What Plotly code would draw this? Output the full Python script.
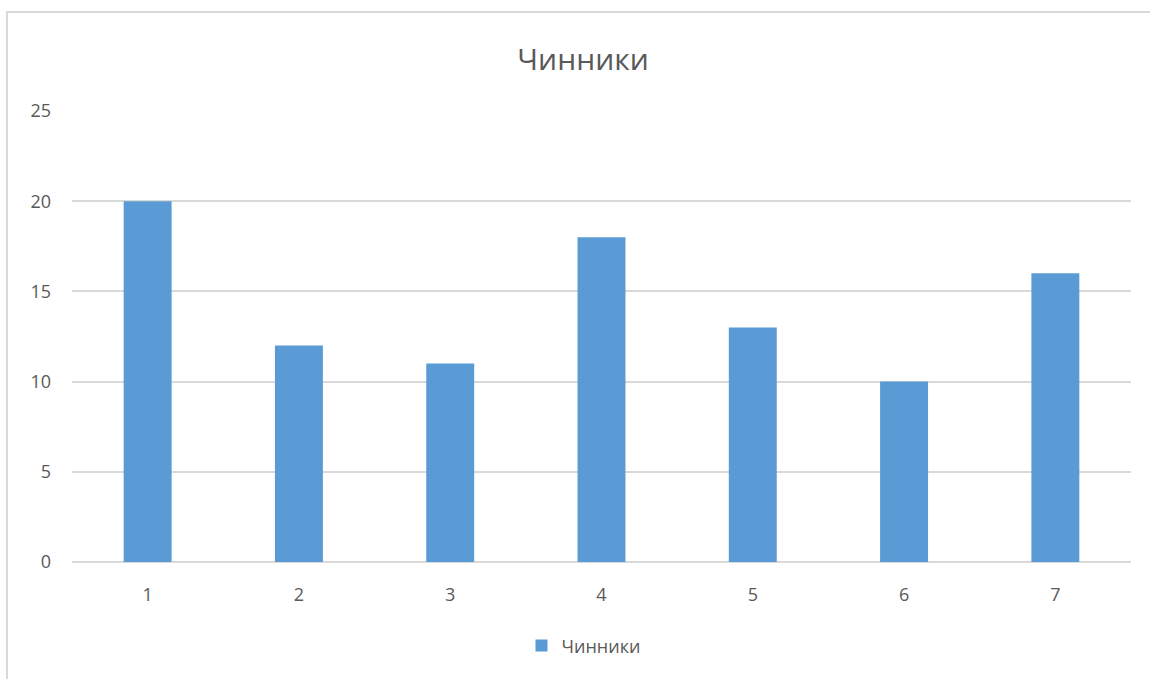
import plotly.graph_objects as go

# Factor numbers and their values
categories = [1, 2, 3, 4, 5, 6, 7]
values = [20, 12, 11, 18, 13, 10, 16]
series_name = "Чинники"
y_ticks = [0, 5, 10, 15, 20, 25]

fig = go.Figure()
fig.add_trace(go.Bar(
    x=categories,
    y=values,
    name=series_name,
    marker=dict(color="#5b9bd5", line=dict(width=0)),
    showlegend=True,
))

text_color = "#595959"
grid_color = "#d9d9d9"

fig.update_layout(
    width=1150,
    height=679,
    margin=dict(l=72, r=19, t=111, b=117),
    paper_bgcolor="white",
    plot_bgcolor="white",
    font=dict(family="Open Sans, DejaVu Sans, sans-serif", color=text_color, size=17),
    title=dict(
        text=series_name,
        x=0.507, xanchor="center",
        y=0.913, yanchor="middle",
        font=dict(size=30, color=text_color),
    ),
    bargap=0.683,
    xaxis=dict(
        tickmode="array",
        tickvals=categories,
        ticktext=[str(c) for c in categories],
        range=[0.5, 7.5],
        showgrid=False,
        zeroline=False,
        showline=False,
        ticks="",
        ticklabelstandoff=20,
        tickfont=dict(size=18, color=text_color),
    ),
    yaxis=dict(
        range=[0, 25],
        tickmode="array",
        tickvals=y_ticks,
        showgrid=True,
        gridcolor=grid_color,
        gridwidth=2,
        zeroline=True,
        zerolinecolor=grid_color,
        zerolinewidth=2,
        showline=False,
        ticks="",
        ticklabelstandoff=20,
        tickfont=dict(size=18, color=text_color),
    ),
    legend=dict(
        orientation="h",
        x=0.483, xanchor="center",
        y=-0.186, yanchor="middle",
        font=dict(size=18, color=text_color),
        itemwidth=30,
    ),
    shapes=[
        dict(
            type="rect", xref="paper", yref="paper",
            x0=-0.0614, x1=1.2, y0=-0.5, y1=1.2195,
            line=dict(color=grid_color, width=2),
            fillcolor="rgba(0,0,0,0)",
            layer="below",
        )
    ],
)

fig.write_html("out.html")
